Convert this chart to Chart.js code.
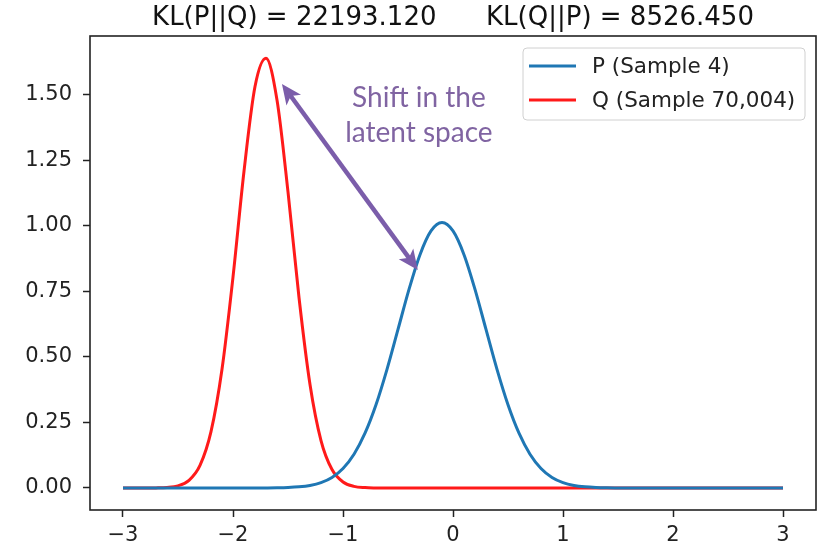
<!DOCTYPE html>
<html lang="en">
<head>
    <meta charset="UTF-8">
    <title>KL divergence - latent shift</title>
    <script src="https://cdn.jsdelivr.net/npm/chart.js"></script>
    <style>
        body {
            margin: 0;
            background: #fff;
        }
        .wrap {
            width: 823px;
            height: 549px;
        }
    </style>
</head>
<body>
    <div class="wrap">
        <canvas id="klChart" width="823" height="549"></canvas>
    </div>

    <script>
        // x positions of the samples
        const xValues = [
            -3.0, -2.9, -2.8, -2.7, -2.6, -2.5, -2.4, -2.3, -2.2, -2.1,
            -2.0, -1.9, -1.8, -1.7, -1.6, -1.5, -1.4, -1.3, -1.2, -1.1,
            -1.0, -0.9, -0.8, -0.7, -0.6, -0.5, -0.4, -0.3, -0.2, -0.1,
            0.0, 0.1, 0.2, 0.3, 0.4, 0.5, 0.6, 0.7, 0.8, 0.9,
            1.0, 1.1, 1.2, 1.3, 1.4, 1.5, 1.6, 1.7, 1.8, 1.9,
            2.0, 2.1, 2.2, 2.3, 2.4, 2.5, 2.6, 2.7, 2.8, 2.9, 3.0
        ];

        // P (Sample 4)
        const pValues = [
            0, 0, 0, 0, 0, 0, 0, 0, 0, 0,
            0, 0, 0.0001, 0.0003, 0.0007, 0.0018, 0.0044, 0.0098, 0.0206, 0.0404,
            0.0746, 0.1290, 0.2091, 0.3176, 0.4528, 0.6051, 0.7580, 0.8905, 0.9809, 1.013,
            0.9809, 0.8905, 0.7580, 0.6051, 0.4528, 0.3176, 0.2091, 0.1290, 0.0746, 0.0404,
            0.0206, 0.0098, 0.0044, 0.0018, 0.0007, 0.0003, 0.0001, 0, 0, 0,
            0, 0, 0, 0, 0, 0, 0, 0, 0, 0, 0
        ];

        // Q (Sample 70,004)
        const qValues = [
            0, 0, 0.0001, 0.0004, 0.0020, 0.0083, 0.0291, 0.0861, 0.215, 0.453,
            0.805, 1.209, 1.532, 1.640, 1.481, 1.130, 0.727, 0.395, 0.181, 0.0703,
            0.0230, 0.0063, 0.0015, 0.0003, 0, 0, 0, 0, 0, 0,
            0, 0, 0, 0, 0, 0, 0, 0, 0, 0,
            0, 0, 0, 0, 0, 0, 0, 0, 0, 0,
            0, 0, 0, 0, 0, 0, 0, 0, 0, 0, 0
        ];

        const seriesLabels = ['P (Sample 4)', 'Q (Sample 70,004)'];
        const xTicks = [-3, -2, -1, 0, 1, 2, 3];
        const yTicks = [0, 0.25, 0.5, 0.75, 1.0, 1.25, 1.5];
        const titleText = 'KL(P||Q) = 22193.120      KL(Q||P) = 8526.450';
        const noteLines = ['Shift in the', 'latent space'];

        // arrow + note, in data units
        const arrowFrom = { x: -1.555, y: 1.542 };
        const arrowTo = { x: -0.32, y: 0.832 };
        const noteAt = { x: -0.31, y: [1.49, 1.355] };

        const FONT = '"DejaVu Sans", sans-serif';

        function toPoints(ys) {
            return xValues.map((x, i) => ({ x: x, y: ys[i] }));
        }

        function minus(v) {
            return v < 0 ? '\u2212' + Math.abs(v) : String(v);
        }

        function drawHead(ctx, tipX, tipY, fromX, fromY) {
            const ang = Math.atan2(tipY - fromY, tipX - fromX);
            const len = 20, half = 9;
            ctx.beginPath();
            ctx.moveTo(tipX, tipY);
            ctx.lineTo(tipX - len * Math.cos(ang) + half * Math.sin(ang),
                       tipY - len * Math.sin(ang) - half * Math.cos(ang));
            ctx.lineTo(tipX - len * 0.75 * Math.cos(ang), tipY - len * 0.75 * Math.sin(ang));
            ctx.lineTo(tipX - len * Math.cos(ang) - half * Math.sin(ang),
                       tipY - len * Math.sin(ang) + half * Math.cos(ang));
            ctx.closePath();
            ctx.fill();
        }

        const extras = {
            id: 'extras',
            afterDraw(chart) {
                const ctx = chart.ctx;
                const a = chart.chartArea;
                const xs = chart.scales.x, ys = chart.scales.y;
                ctx.save();

                // frame (all four spines)
                ctx.strokeStyle = '#222';
                ctx.lineWidth = 1.6;
                ctx.strokeRect(a.left, a.top, a.right - a.left, a.bottom - a.top);

                // title
                ctx.fillStyle = '#111';
                ctx.font = '26px ' + FONT;
                ctx.textAlign = 'center';
                ctx.textBaseline = 'middle';
                ctx.fillText(titleText, (a.left + a.right) / 2, 18);

                // legend
                const lx = a.right - 11, ly = a.top + 12, lw = 282, lh = 72;
                ctx.beginPath();
                ctx.roundRect(lx - lw, ly, lw, lh, 4);
                ctx.fillStyle = 'rgba(255,255,255,0.85)';
                ctx.fill();
                ctx.strokeStyle = '#d0d0d0';
                ctx.lineWidth = 1;
                ctx.stroke();
                ctx.font = '21.5px ' + FONT;
                ctx.textAlign = 'left';
                chart.data.datasets.forEach((ds, i) => {
                    const y = ly + 18 + i * 34;
                    ctx.strokeStyle = ds.borderColor;
                    ctx.lineWidth = 3;
                    ctx.beginPath();
                    ctx.moveTo(lx - lw + 6, y);
                    ctx.lineTo(lx - lw + 53, y);
                    ctx.stroke();
                    ctx.fillStyle = '#222';
                    ctx.fillText(ds.label, lx - lw + 69, y + 1);
                });

                // double-headed arrow
                const x1 = xs.getPixelForValue(arrowFrom.x), y1 = ys.getPixelForValue(arrowFrom.y);
                const x2 = xs.getPixelForValue(arrowTo.x), y2 = ys.getPixelForValue(arrowTo.y);
                ctx.strokeStyle = '#7b5daa';
                ctx.fillStyle = '#7b5daa';
                ctx.lineWidth = 4.5;
                const ang = Math.atan2(y2 - y1, x2 - x1);
                ctx.beginPath();
                ctx.moveTo(x1 + 14 * Math.cos(ang), y1 + 14 * Math.sin(ang));
                ctx.lineTo(x2 - 14 * Math.cos(ang), y2 - 14 * Math.sin(ang));
                ctx.stroke();
                drawHead(ctx, x1, y1, x2, y2);
                drawHead(ctx, x2, y2, x1, y1);

                // note text
                ctx.fillStyle = '#8064a2';
                ctx.font = '28px Lato, sans-serif';
                ctx.textAlign = 'center';
                ctx.textBaseline = 'middle';
                noteLines.forEach((t, i) => {
                    ctx.fillText(t, xs.getPixelForValue(noteAt.x), ys.getPixelForValue(noteAt.y[i]));
                });

                ctx.restore();
            }
        };

        new Chart(document.getElementById('klChart'), {
            type: 'line',
            data: {
                datasets: [
                    {
                        label: seriesLabels[0],
                        data: toPoints(pValues),
                        borderColor: '#1f77b4',
                        borderWidth: 3,
                        pointRadius: 0,
                        cubicInterpolationMode: 'monotone',
                        fill: false
                    },
                    {
                        label: seriesLabels[1],
                        data: toPoints(qValues),
                        borderColor: '#ff1a1a',
                        borderWidth: 3,
                        pointRadius: 0,
                        cubicInterpolationMode: 'monotone',
                        fill: false
                    }
                ]
            },
            options: {
                responsive: false,
                animation: false,
                layout: { padding: { top: 36, right: 7, left: 0, bottom: 0 } },
                plugins: {
                    legend: { display: false },
                    title: { display: false },
                    tooltip: { enabled: false }
                },
                scales: {
                    x: {
                        type: 'linear',
                        min: -3.3,
                        max: 3.3,
                        afterFit(scale) { scale.height = 39; },
                        afterBuildTicks(scale) { scale.ticks = xTicks.map(v => ({ value: v })); },
                        grid: { drawOnChartArea: false, drawTicks: true, tickLength: 7, tickColor: '#222', tickWidth: 1.5 },
                        border: { display: false },
                        ticks: {
                            padding: 6,
                            color: '#222',
                            font: { family: FONT, size: 21 },
                            callback: v => minus(v)
                        }
                    },
                    y: {
                        min: -0.084,
                        max: 1.725,
                        afterFit(scale) { scale.width = 90; },
                        afterBuildTicks(scale) { scale.ticks = yTicks.map(v => ({ value: v })); },
                        grid: { drawOnChartArea: false, drawTicks: true, tickLength: 7, tickColor: '#222', tickWidth: 1.5 },
                        border: { display: false },
                        ticks: {
                            padding: 11,
                            color: '#222',
                            font: { family: FONT, size: 21 },
                            callback: v => v.toFixed(2)
                        }
                    }
                }
            },
            plugins: [extras]
        });
    </script>
</body>
</html>
